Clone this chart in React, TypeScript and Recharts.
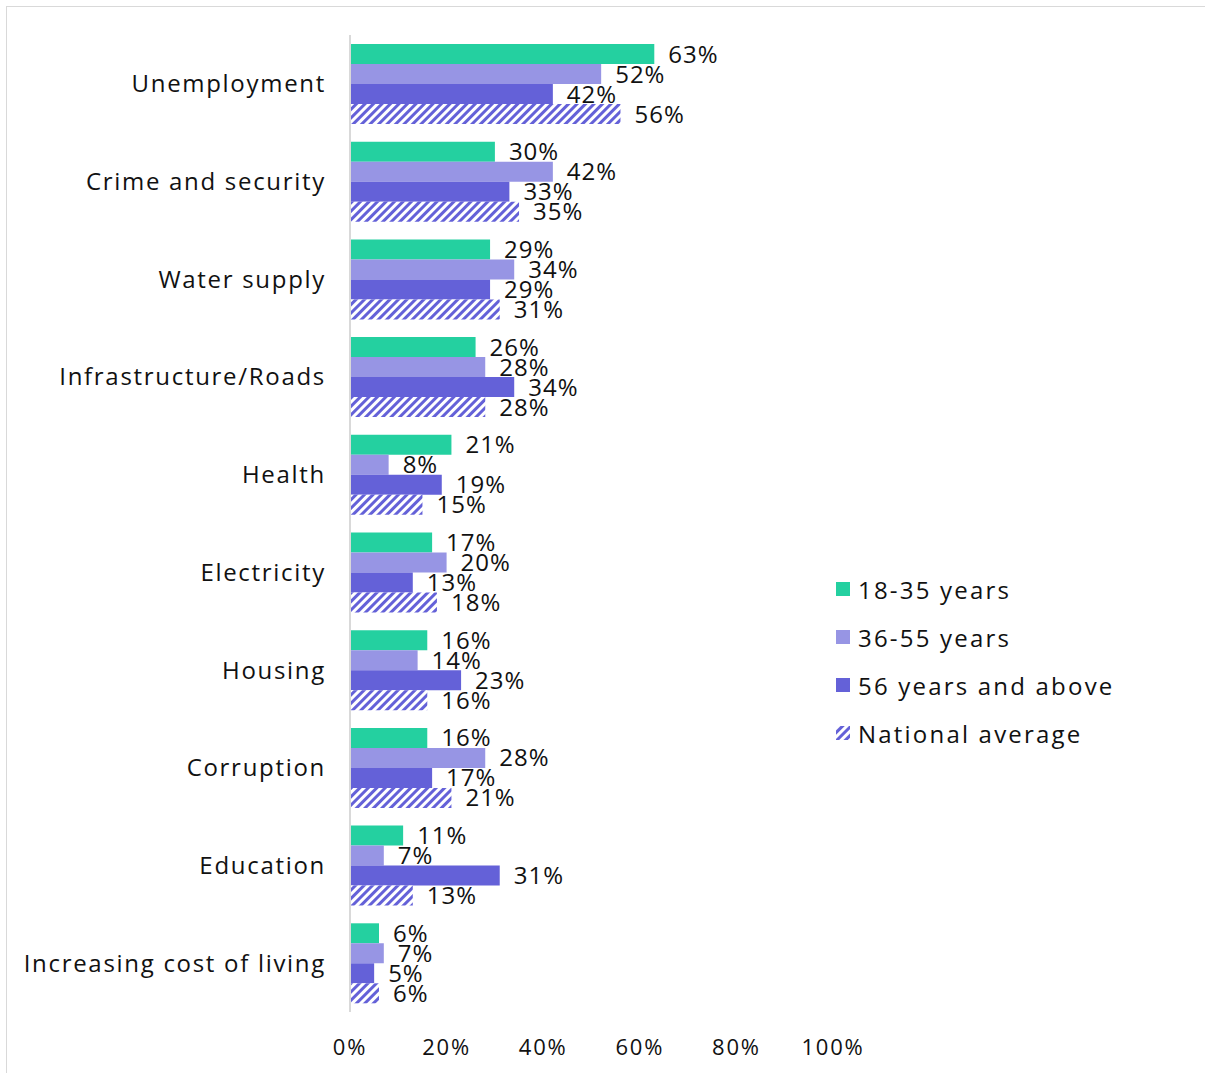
import * as React from 'react';
import { BarChart, Bar, XAxis, YAxis, LabelList, Legend } from 'recharts';

// ---- data ----
const categories = [
  'Unemployment',
  'Crime and security',
  'Water supply',
  'Infrastructure/Roads',
  'Health',
  'Electricity',
  'Housing',
  'Corruption',
  'Education',
  'Increasing cost of living',
];
const youth = [63, 30, 29, 26, 21, 17, 16, 16, 11, 6];
const middle = [52, 42, 34, 28, 8, 20, 14, 28, 7, 7];
const older = [42, 33, 29, 34, 19, 13, 23, 17, 31, 5];
const national = [56, 35, 31, 28, 15, 18, 16, 21, 13, 6];
const xTicks = [0, 20, 40, 60, 80, 100];

const SERIES = [
  { key: 'youth', name: '18-35 years', fill: '#24D0A0' },
  { key: 'middle', name: '36-55 years', fill: '#9795E4' },
  { key: 'older', name: '56 years and above', fill: '#6461D8' },
  { key: 'national', name: 'National average', fill: 'url(#hatch)' },
];

const FONT = '"Open Sans", sans-serif';

const data = categories.map((name, i) => ({
  name,
  youth: youth[i],
  middle: middle[i],
  older: older[i],
  national: national[i],
}));

const renderLegend = () => (
  <ul style={{ listStyle: 'none', margin: 0, padding: 0, fontFamily: FONT }}>
    {SERIES.map((s) => (
      <li
        key={s.key}
        style={{
          display: 'flex',
          alignItems: 'center',
          height: 48,
          fontSize: 24,
          letterSpacing: 2.2,
          color: '#111',
        }}
      >
        <svg width={18} height={18} style={{ marginRight: 6 }}>
          <rect x={2} y={2} width={14} height={14} fill={s.fill} />
        </svg>
        <span>{s.name}</span>
      </li>
    ))}
  </ul>
);

export default function App() {
  return (
    <div
      style={{
        position: 'absolute',
        left: 0,
        top: 0,
        width: 1205,
        height: 1073,
        overflow: 'hidden',
        background: '#fff',
      }}
    >
      <div
        style={{
          position: 'absolute',
          left: 6,
          top: 6,
          width: 1210,
          height: 1080,
          border: '1px solid #d9d9d9',
        }}
      />
      <BarChart
        width={1205}
        height={1073}
        data={data}
        layout="vertical"
        barSize={20}
        barGap={0}
        margin={{ top: 35, right: 372, bottom: 21, left: 0 }}
        style={{ position: 'absolute', left: 0, top: 0 }}
      >
        <defs>
          <pattern id="hatch" width={6} height={6} patternUnits="userSpaceOnUse" patternTransform="rotate(45)">
            <rect width={6} height={6} fill="#fff" />
            <rect width={3} height={6} fill="#6461D8" />
          </pattern>
        </defs>
        <XAxis
          type="number"
          domain={[0, 100]}
          ticks={xTicks}
          tickFormatter={(v) => `${v}%`}
          axisLine={false}
          tickLine={false}
          tickMargin={21}
          height={40}
          tick={{ fontSize: 22, fill: '#111', fontFamily: FONT, letterSpacing: 1.8 }}
        />
        <YAxis
          type="category"
          dataKey="name"
          width={350}
          axisLine={{ stroke: '#d9d9d9', strokeWidth: 2 }}
          tickLine={false}
          tickMargin={18}
          tick={{ fontSize: 24, fill: '#111', fontFamily: FONT, letterSpacing: 1.7 }}
          interval={0}
        />
        <Legend
          layout="vertical"
          align="center"
          verticalAlign="middle"
          content={renderLegend as never}
          wrapperStyle={{ left: 834, top: 565, width: 360 }}
        />
        {SERIES.map((s) => (
          <Bar key={s.key} dataKey={s.key} name={s.name} fill={s.fill} isAnimationActive={false}>
            <LabelList
              dataKey={s.key}
              position="right"
              offset={14}
              formatter={(v: number) => `${v}%`}
              style={{ fontSize: 24, fill: '#111', fontFamily: FONT, letterSpacing: 1 }}
            />
          </Bar>
        ))}
      </BarChart>
    </div>
  );
}
